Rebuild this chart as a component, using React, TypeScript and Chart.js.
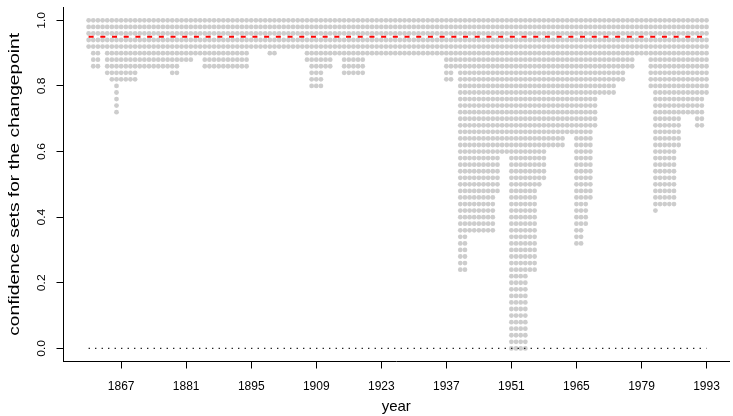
import React, { useEffect, useRef } from "react";
import { Chart, registerables } from "chart.js";

Chart.register(...registerables);

// Candidate changepoint years
const years: number[] = [
  1860, 1861, 1862, 1863, 1864, 1865, 1866, 1867, 1868, 1869,
  1870, 1871, 1872, 1873, 1874, 1875, 1876, 1877, 1878, 1879,
  1880, 1881, 1882, 1883, 1884, 1885, 1886, 1887, 1888, 1889,
  1890, 1891, 1892, 1893, 1894, 1895, 1896, 1897, 1898, 1899,
  1900, 1901, 1902, 1903, 1904, 1905, 1906, 1907, 1908, 1909,
  1910, 1911, 1912, 1913, 1914, 1915, 1916, 1917, 1918, 1919,
  1920, 1921, 1922, 1923, 1924, 1925, 1926, 1927, 1928, 1929,
  1930, 1931, 1932, 1933, 1934, 1935, 1936, 1937, 1938, 1939,
  1940, 1941, 1942, 1943, 1944, 1945, 1946, 1947, 1948, 1949,
  1950, 1951, 1952, 1953, 1954, 1955, 1956, 1957, 1958, 1959,
  1960, 1961, 1962, 1963, 1964, 1965, 1966, 1967, 1968, 1969,
  1970, 1971, 1972, 1973, 1974, 1975, 1976, 1977, 1978, 1979,
  1980, 1981, 1982, 1983, 1984, 1985, 1986, 1987, 1988, 1989,
  1990, 1991, 1992, 1993,
];

// Lowest confidence level whose confidence set still contains the year
const minLevel: number[] = [
  0.92, 0.86, 0.86, 0.92, 0.84, 0.82, 0.72, 0.82, 0.82, 0.82,
  0.82, 0.86, 0.86, 0.86, 0.86, 0.86, 0.86, 0.86, 0.84, 0.84,
  0.88, 0.88, 0.88, 0.90, 0.90, 0.86, 0.86, 0.86, 0.86, 0.86,
  0.86, 0.86, 0.86, 0.86, 0.86, 0.92, 0.92, 0.92, 0.92, 0.90,
  0.90, 0.92, 0.92, 0.92, 0.92, 0.92, 0.92, 0.88, 0.80, 0.80,
  0.80, 0.86, 0.86, 0.90, 0.90, 0.84, 0.84, 0.84, 0.84, 0.84,
  0.90, 0.90, 0.90, 0.90, 0.90, 0.90, 0.90, 0.90, 0.90, 0.90,
  0.90, 0.90, 0.90, 0.90, 0.90, 0.90, 0.90, 0.82, 0.82, 0.86,
  0.24, 0.24, 0.36, 0.36, 0.36, 0.36, 0.36, 0.36, 0.48, 0.60,
  0.60, 0.00, 0.00, 0.00, 0.00, 0.24, 0.24, 0.50, 0.52, 0.62,
  0.62, 0.62, 0.62, 0.66, 0.66, 0.32, 0.32, 0.38, 0.46, 0.68,
  0.78, 0.78, 0.78, 0.78, 0.82, 0.82, 0.86, 0.86, 0.90, 0.90,
  0.90, 0.80, 0.42, 0.44, 0.44, 0.44, 0.44, 0.62, 0.72, 0.72,
  0.72, 0.68, 0.68, 0.78,
];

// Confidence levels (rows)
const levels: number[] = [
  0.0, 0.02, 0.04, 0.06, 0.08, 0.1, 0.12, 0.14, 0.16, 0.18,
  0.2, 0.22, 0.24, 0.26, 0.28, 0.3, 0.32, 0.34, 0.36, 0.38,
  0.4, 0.42, 0.44, 0.46, 0.48, 0.5, 0.52, 0.54, 0.56, 0.58,
  0.6, 0.62, 0.64, 0.66, 0.68, 0.7, 0.72, 0.74, 0.76, 0.78,
  0.8, 0.82, 0.84, 0.86, 0.88, 0.9, 0.92, 0.94, 0.96, 0.98, 1.0,
];

const xTickYears: number[] = [1867, 1881, 1895, 1909, 1923, 1937, 1951, 1965, 1979, 1993];
const yTickValues: number[] = [0, 0.2, 0.4, 0.6, 0.8, 1.0];
const yTickLabels: string[] = ["0.0", "0.2", "0.4", "0.6", "0.8", "1.0"];
const nominalLevel = 0.95;
const baseLevel = 0;
const xTitle = "year";
const yTitle = "confidence sets for the changepoint";

const FONT = '"Liberation Sans", Arial, Helvetica, sans-serif';
const W = 733;
const H = 416;

export default function App() {
  const ref = useRef<HTMLCanvasElement>(null);

  useEffect(() => {
    const canvas = ref.current;
    if (!canvas) return;

    const points: { x: number; y: number }[] = [];
    years.forEach((yr, i) => {
      levels.forEach((lv) => {
        if (lv >= minLevel[i] - 1e-9) points.push({ x: yr, y: lv });
      });
    });
    const first = years[0];
    const last = years[years.length - 1];

    const textPlugin = {
      id: "rotatedText",
      afterDraw(chart: any) {
        const ctx = chart.ctx as CanvasRenderingContext2D;
        const ys = chart.scales.y;
        const area = chart.chartArea;
        ctx.save();
        ctx.fillStyle = "#000";
        ctx.textAlign = "center";
        ctx.textBaseline = "middle";
        ctx.font = `11px ${FONT}`;
        yTickValues.forEach((v, i) => {
          const py = ys.getPixelForValue(v);
          ctx.save();
          ctx.translate(area.left - 22, py);
          ctx.rotate(-Math.PI / 2);
          ctx.scale(1.1, 1);
          ctx.fillText(yTickLabels[i], 0, 0);
          ctx.restore();
        });
        ctx.font = `14px ${FONT}`;
        const cy = (area.top + area.bottom) / 2;
        ctx.translate(15, cy);
        ctx.rotate(-Math.PI / 2);
        ctx.scale(1.37, 1);
        ctx.fillText(yTitle, 0, 0);
        ctx.restore();
      },
    };

    const axisGrid = {
      display: true,
      drawOnChartArea: false,
      drawTicks: true,
      tickLength: 7,
      color: "#000",
      lineWidth: 1,
    };

    const chart = new Chart(canvas, {
      type: "scatter",
      data: {
        datasets: [
          {
            label: "nominal level",
            data: [
              { x: first, y: nominalLevel },
              { x: last, y: nominalLevel },
            ],
            showLine: true,
            borderColor: "#ff0000",
            borderWidth: 1.8,
            borderDash: [5, 6.7],
            pointRadius: 0,
            order: 0,
          },
          {
            label: "zero",
            data: [
              { x: first, y: baseLevel },
              { x: last, y: baseLevel },
            ],
            showLine: true,
            borderColor: "#000",
            borderWidth: 1.2,
            borderDash: [1.2, 5.3],
            pointRadius: 0,
            order: 1,
          },
          {
            label: "confidence sets",
            data: points,
            pointRadius: 2.4,
            pointBackgroundColor: "rgb(205,205,205)",
            pointBorderWidth: 0,
            pointBorderColor: "rgba(0,0,0,0)",
            order: 2,
          },
        ],
      },
      options: {
        animation: false,
        responsive: false,
        devicePixelRatio: 1,
        events: [],
        layout: { padding: { top: 7.2, left: 0, right: 0, bottom: 0 } },
        plugins: {
          legend: { display: false },
          tooltip: { enabled: false },
        },
        scales: {
          x: {
            type: "linear",
            position: "bottom",
            min: 1854.59,
            max: 1997.84,
            afterBuildTicks: (s: any) => {
              s.ticks = xTickYears.map((v) => ({ value: v }));
            },
            afterFit: (s: any) => {
              s.height = H - 361.5;
              s.paddingLeft = 0;
              s.paddingRight = 0;
            },
            grid: axisGrid,
            border: { display: true, color: "#000", width: 1 },
            ticks: {
              callback: (v: any) => String(v),
              autoSkip: false,
              maxRotation: 0,
              minRotation: 0,
              padding: 10.5,
              color: "#000",
              font: { family: FONT, size: 12 },
            },
            title: {
              display: true,
              text: xTitle,
              color: "#000",
              font: { family: FONT, size: 15 },
              padding: { top: 0, bottom: 0 },
            },
          },
          y: {
            type: "linear",
            position: "left",
            min: -0.04,
            max: 1.04,
            afterBuildTicks: (s: any) => {
              s.ticks = yTickValues.map((v) => ({ value: v }));
            },
            afterFit: (s: any) => {
              s.width = 63.5;
              s.paddingTop = 0;
              s.paddingBottom = 0;
            },
            grid: axisGrid,
            border: { display: true, color: "#000", width: 1 },
            ticks: { display: false },
            title: { display: false },
          },
        },
      } as any,
      plugins: [textPlugin],
    });

    return () => chart.destroy();
  }, []);

  return (
    <div style={{ position: "fixed", left: 0, top: 0, width: W, height: H, background: "#fff" }}>
      <canvas ref={ref} width={W} height={H} style={{ display: "block", width: W, height: H }} />
    </div>
  );
}
